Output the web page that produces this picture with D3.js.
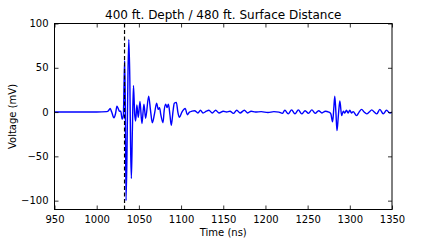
<!DOCTYPE html>
<html>
<head>
<meta charset="utf-8">
<script src="https://cdn.jsdelivr.net/npm/d3@7"></script>
<style>
  body { margin: 0; background: #fff; }
  svg text { font-family: "DejaVu Sans", sans-serif; fill: #000; }
</style>
</head>
<body>
<div id="chart"></div>
<script>
const chartTitle = "400 ft. Depth / 480 ft. Surface Distance";
const xTicks = [950, 1000, 1050, 1100, 1150, 1200, 1250, 1300, 1350];
const yTicks = [-100, -50, 0, 50, 100];
const markerTime = 1033;

// waveform: time (ns), voltage (mV)
const times = [
  950, 1000, 1012, 1014, 1016, 1017.8, 1020.5, 1022.5, 1024, 1025.5, 1027, 1028.5, 1030.2, 1031.6,
  1032.5, 1033.2, 1034, 1034.8, 1036, 1037.1, 1038.1, 1039.3, 1040.2, 1041.1, 1042.3, 1043.6,
  1045, 1046.2, 1047.6, 1049.3, 1051.3, 1053.6, 1056, 1058, 1061.6, 1063.8, 1065.9, 1068.5,
  1071, 1073, 1074.5, 1076, 1078.6, 1080, 1081.7, 1083.4, 1085, 1086.8, 1088.4, 1090.6, 1092,
  1094.4, 1096.2, 1098, 1101, 1105, 1107.4, 1110, 1113, 1116, 1120, 1123, 1126, 1130, 1133,
  1137, 1141, 1145, 1150, 1154, 1158, 1162, 1166, 1170, 1175, 1179, 1183, 1188, 1195, 1203,
  1210, 1216, 1220, 1223, 1227, 1231, 1235, 1239, 1243, 1247, 1251, 1255, 1259, 1263, 1267,
  1271, 1275, 1277.5, 1279.6, 1281, 1282.2, 1283.5, 1284.8, 1286.5, 1288.2, 1290.3, 1292.3,
  1294, 1296, 1298, 1300, 1302, 1304, 1308, 1311, 1314, 1317, 1320, 1323, 1326, 1329, 1332,
  1335.6, 1339.6, 1343.5, 1347.5, 1350
];
const volts = [
  0, 0, 0.5, 1.5, 4, 0, -6.5, -1, 6.5, 4, 1, 1, -8, -4,
  35, 58, 0, -100, -40, 45, 82, 35, -40, -75, -20, 30,
  -2, -10, 8, -6, 12, -13, 9, -7, 18, 2, -12, -2,
  10, 3, 5, -3, -12, 2, 9, 5, 9, -3, -15, 2, 10,
  11, 0, -6, 0, 4, -3, 0, 1, 1.5, -1, 2, -1, 1, 2,
  -1, 2, -1, 1, 0, 1, -1.5, 2, -1, 2, -1, 1, 0, 0.5, -0.5,
  0.5, 0, -1.5, 2, -2, 2.5, -2, 2.5, -2, 1.5, -1.5, 2.5, -1.5, 1.5, -1,
  1, 0, -2, -11, 4, 18, 0, -21, -3, 12.5, -4, 1,
  -1, 2, -1, 2, -1, 0.5, -4, 0, 3, 0, -2, 0, 2.5, 0, -2,
  3, -2, 2, -1, 0
];

const width = 436, height = 240;
const margin = { top: 23.5, right: 44, bottom: 30.5, left: 54.5 };
const innerW = width - margin.left - margin.right;
const innerH = height - margin.top - margin.bottom;

const svg = d3.select("#chart").append("svg")
    .attr("width", width)
    .attr("height", height);

const x = d3.scaleLinear().domain([950, 1350]).range([margin.left, margin.left + innerW]);
const y = d3.scaleLinear().domain([-110, 100]).range([margin.top + innerH, margin.top]);

const fmt = d => d < 0 ? "\u2212" + Math.abs(d) : String(d);

// clip to the plot box
svg.append("clipPath").attr("id", "plotclip")
  .append("rect")
    .attr("x", margin.left).attr("y", margin.top)
    .attr("width", innerW).attr("height", innerH);

const plot = svg.append("g").attr("clip-path", "url(#plotclip)");

const pts = times.map((t, i) => [t, volts[i]]);
const line = d3.line().x(d => x(d[0])).y(d => y(d[1])).curve(d3.curveMonotoneX);

plot.append("path")
    .datum(pts)
    .attr("d", line)
    .attr("fill", "none")
    .attr("stroke", "#0000ff")
    .attr("stroke-width", 1.4)
    .attr("stroke-linejoin", "round");

plot.append("line")
    .attr("x1", x(markerTime)).attr("x2", x(markerTime))
    .attr("y1", margin.top).attr("y2", margin.top + innerH)
    .attr("stroke", "#000")
    .attr("stroke-width", 1.2)
    .attr("stroke-dasharray", "4,2.5");

// axes, ticks pointing inward like matplotlib classic
const axB = svg.append("g").attr("transform", `translate(0,${margin.top + innerH})`)
    .call(d3.axisBottom(x).tickValues(xTicks).tickSizeInner(-4).tickSizeOuter(0).tickPadding(6).tickFormat(fmt));
const axT = svg.append("g").attr("transform", `translate(0,${margin.top})`)
    .call(d3.axisTop(x).tickValues(xTicks).tickSizeInner(-4).tickSizeOuter(0).tickFormat(""));
const axL = svg.append("g").attr("transform", `translate(${margin.left},0)`)
    .call(d3.axisLeft(y).tickValues(yTicks).tickSizeInner(-4).tickSizeOuter(0).tickPadding(6).tickFormat(fmt));
const axR = svg.append("g").attr("transform", `translate(${margin.left + innerW},0)`)
    .call(d3.axisRight(y).tickValues(yTicks).tickSizeInner(-4).tickSizeOuter(0).tickFormat(""));

[axB, axT, axL, axR].forEach(a => {
    a.select(".domain").remove();
    a.selectAll(".tick line").attr("stroke", "#000").attr("stroke-width", 0.8);
    a.selectAll("text").style("font-size", "10px").style("font-family", "DejaVu Sans");
});

svg.append("rect")
    .attr("x", margin.left).attr("y", margin.top)
    .attr("width", innerW).attr("height", innerH)
    .attr("fill", "none").attr("stroke", "#000").attr("stroke-width", 1);

svg.append("text")
    .attr("x", margin.left + innerW / 2).attr("y", 19)
    .attr("text-anchor", "middle")
    .style("font-size", "12px")
    .text(chartTitle);

svg.append("text")
    .attr("x", margin.left + innerW / 2).attr("y", 236)
    .attr("text-anchor", "middle")
    .style("font-size", "10px")
    .text("Time (ns)");

svg.append("text")
    .attr("transform", `translate(16,${margin.top + innerH / 2}) rotate(-90)`)
    .attr("text-anchor", "middle")
    .style("font-size", "10px")
    .text("Voltage (mV)");
</script>
</body>
</html>
